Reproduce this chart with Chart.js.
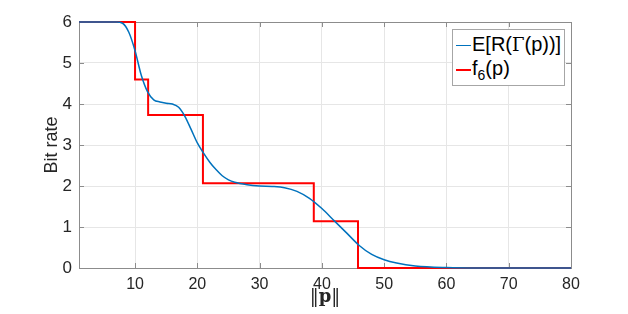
<!DOCTYPE html>
<html>
<head>
<meta charset="utf-8">
<script src="https://cdn.jsdelivr.net/npm/chart.js@4"></script>
<style>
  body { margin: 0; background: #fff; }
  #wrap { position: relative; width: 628px; height: 314px; }
  #legend {
    position: absolute; left: 452px; top: 29px; width: 113px; height: 57px;
    background: #fff; border: 1px solid #a6a6a6; box-sizing: border-box;
    font-family: "Liberation Sans", Arial, sans-serif; font-size: 20px; color: #000;
  }
  #legend .row { position: absolute; left: 3px; height: 24px; line-height: 24px; white-space: nowrap; }
  #legend .swatch { display: inline-block; width: 15px; height: 0; vertical-align: middle; margin-right: 1px; }
  #legend .gam { font-family: "DejaVu Serif", "Liberation Serif", serif; font-size: 18px; }
  #legend sub { font-size: 14px; vertical-align: -5px; line-height: 0; }
  #xtitle {
    position: absolute; left: 0; width: 650px; top: 285px; text-align: center;
    font-family: "DejaVu Serif", "Liberation Serif", serif; font-size: 18px; color: #262626;
  }
</style>
</head>
<body>
<div id="wrap">
  <canvas id="rate_chart" width="628" height="314"></canvas>
  <div id="legend">
    <div class="row" style="top:2px"><span class="swatch" style="border-top:1.5px solid #0072BD"></span>E[R(<span class="gam">&Gamma;</span>(p))]</div>
    <div class="row" style="top:26px"><span class="swatch" style="border-top:2px solid #ff0000"></span>f<sub>6</sub>(p)</div>
  </div>
  <div id="xtitle">&#8214;<b>p</b>&#8214;</div>
</div>
<script>
// expected bit rate curve
var curveX = [1, 7, 8, 9, 10, 11, 12, 13, 14, 15, 16, 17, 18, 19, 20, 21, 22, 23, 24, 25, 26, 28, 30, 32, 34, 36, 38, 40, 42, 44, 46, 48, 50, 52, 55, 60, 65, 80];
var curveY = [6, 6, 5.97, 5.75, 5.3, 4.7, 4.3, 4.1, 4.05, 4.02, 4.0, 3.92, 3.7, 3.38, 3.05, 2.8, 2.58, 2.4, 2.25, 2.15, 2.09, 2.03, 2.0, 1.99, 1.96, 1.87, 1.7, 1.45, 1.15, 0.85, 0.55, 0.33, 0.2, 0.12, 0.05, 0.01, 0, 0];

// staircase f6
var stepX = [1, 10, 12.1, 20.9, 38.7, 45.8, 80];
var stepY = [6, 4.6, 3.73, 2.07, 1.14, 0, 0];

var xTicks = [10, 20, 30, 40, 50, 60, 70, 80];
var yTicks = [0, 1, 2, 3, 4, 5, 6];

function toPoints(xs, ys) {
  return xs.map(function (x, i) { return { x: x, y: ys[i] }; });
}

var axisColor = '#8c8c8c';

// box + inward tick marks like matlab
var boxPlugin = {
  id: 'box',
  beforeDatasetsDraw: function (chart) {
    var ctx = chart.ctx, a = chart.chartArea;
    var sx = chart.scales.x, sy = chart.scales.y;
    ctx.save();
    ctx.strokeStyle = axisColor;
    ctx.lineWidth = 1;
    ctx.beginPath();
    xTicks.forEach(function (v) {
      var p = Math.round(sx.getPixelForValue(v)) + 0.5;
      ctx.moveTo(p, a.bottom); ctx.lineTo(p, a.bottom - 5);
      ctx.moveTo(p, a.top); ctx.lineTo(p, a.top + 5);
    });
    yTicks.forEach(function (v) {
      var p = Math.round(sy.getPixelForValue(v)) + 0.5;
      ctx.moveTo(a.left, p); ctx.lineTo(a.left + 5, p);
      ctx.moveTo(a.right, p); ctx.lineTo(a.right - 5, p);
    });
    ctx.stroke();
    ctx.strokeRect(Math.round(a.left) + 0.5, Math.round(a.top) + 0.5, Math.round(a.right - a.left), Math.round(a.bottom - a.top));
    ctx.restore();
  }
};

var c1 = document.getElementById('rate_chart').getContext('2d');
var rate_chart = new Chart(c1, {
  type: 'line',
  data: {
    datasets: [
      {
        label: 'E[R(Γ(p))]',
        data: toPoints(curveX, curveY),
        borderColor: '#0072BD',
        borderWidth: 1.5,
        pointRadius: 0,
        cubicInterpolationMode: 'monotone',
        clip: false,
        fill: false
      },
      {
        label: 'f6(p)',
        data: toPoints(stepX, stepY),
        borderColor: '#ff0000',
        borderWidth: 2,
        pointRadius: 0,
        stepped: true,
        clip: false,
        fill: false
      }
    ]
  },
  options: {
    responsive: false,
    animation: false,
    layout: { padding: { left: 0, right: 57, top: 22, bottom: 0 } },
    plugins: {
      legend: { display: false },
      tooltip: { enabled: false }
    },
    scales: {
      x: {
        type: 'linear',
        min: 1,
        max: 80,
        afterBuildTicks: function (s) { s.ticks = xTicks.map(function (v) { return { value: v }; }); },
        afterFit: function (s) { s.height = 46; },
        grid: { color: '#e6e6e6', drawTicks: false },
        border: { color: axisColor },
        ticks: {
          padding: 7,
          color: '#262626',
          font: { family: 'Liberation Sans', size: 16 },
          maxRotation: 0
        }
      },
      y: {
        min: 0,
        max: 6,
        afterBuildTicks: function (s) { s.ticks = yTicks.map(function (v) { return { value: v }; }); },
        afterFit: function (s) { s.width = 79; },
        grid: { color: '#e6e6e6', drawTicks: false },
        border: { color: axisColor },
        ticks: {
          padding: 7,
          color: '#262626',
          font: { family: 'Liberation Sans', size: 17 }
        },
        title: {
          display: true,
          text: 'Bit rate',
          color: '#262626',
          font: { family: 'Liberation Sans', size: 18 },
          padding: { top: 41, bottom: 0 }
        }
      }
    }
  },
  plugins: [boxPlugin]
});
</script>
</body>
</html>
